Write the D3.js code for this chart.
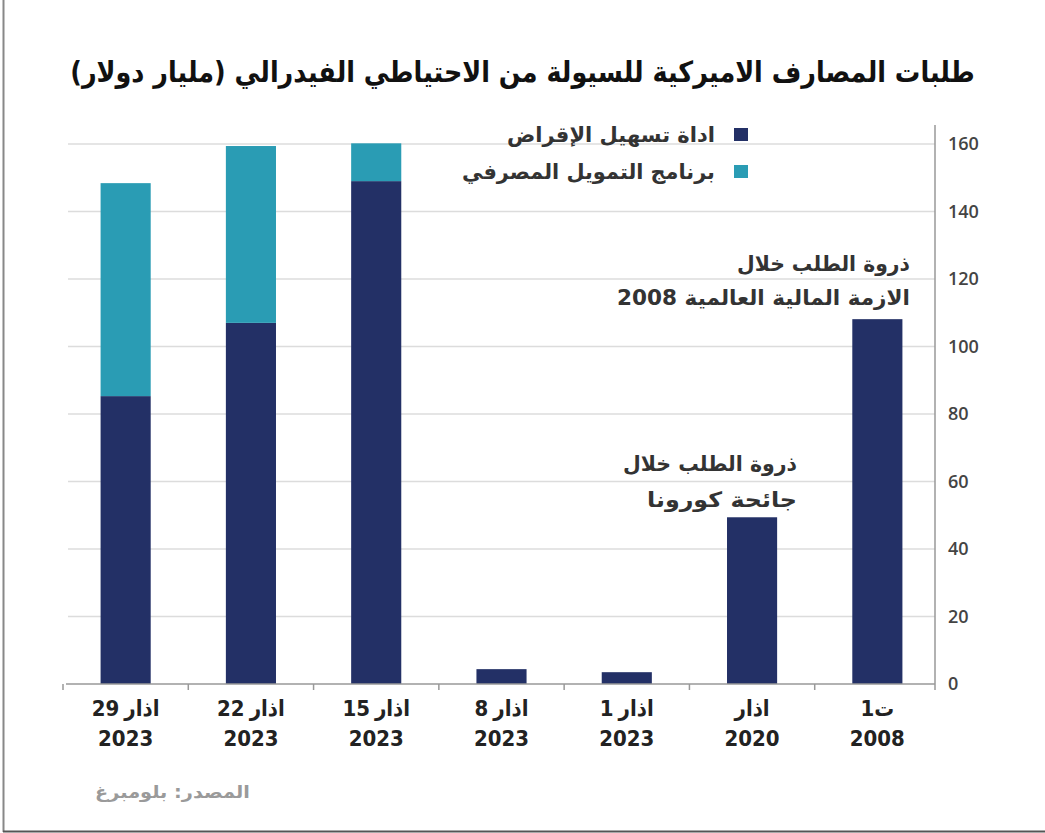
<!DOCTYPE html>
<html>
<head>
<meta charset="utf-8">
<script src="https://cdn.jsdelivr.net/npm/d3@7"></script>
<style>
  body { margin: 0; background: white; }
  svg { display: block; }
</style>
</head>
<body>
<script>
// categories, left to right as drawn
const dateDay = ["29", "22", "15", "8", "1", "", ""]
const dateMonth = ["اذار", "اذار", "اذار", "اذار", "اذار", "اذار", "1ت"]
const dateYear = ["2023", "2023", "2023", "2023", "2023", "2020", "2008"]
const lending = [85.3, 107, 149, 4.4, 3.5, 49.4, 108.1]
const btfp = [63.1, 52.4, 11.2, 0, 0, 0, 0]
const yTicks = [0, 20, 40, 60, 80, 100, 120, 140, 160]
const seriesNames = ["اداة تسهيل الإقراض", "برنامج التمويل المصرفي"]
const colors = ["#233066", "#2a9cb4"]

const title = "طلبات المصارف الاميركية للسيولة من الاحتياطي الفيدرالي (مليار دولار)"
const note2008 = ["ذروة الطلب خلال", "الازمة المالية العالمية 2008"]
const note2020 = ["ذروة الطلب خلال", "جائحة كورونا"]
const source = "المصدر: بلومبرغ"

const width = 1045
const height = 833
const arabicFont = "'DejaVu Sans', sans-serif"

const svg = d3.select("body")
    .append("svg")
    .attr("width", width)
    .attr("height", height)
    .style("background", "white")

// frame
svg.append("line").attr("x1", 3.5).attr("x2", 3.5).attr("y1", 0).attr("y2", 832)
    .attr("stroke", "#888").attr("stroke-width", 2)
svg.append("line").attr("x1", 3).attr("x2", width).attr("y1", 831.5).attr("y2", 831.5)
    .attr("stroke", "#555").attr("stroke-width", 2)

const table = dateYear.map((d, i) => ({ key: i, lending: lending[i], btfp: btfp[i] }))

const xScale = d3.scaleBand()
    .domain(d3.range(dateYear.length))
    .range([63, 940])
    .paddingInner(0.6)
    .paddingOuter(0.3)

const yScale = d3.scaleLinear()
    .domain([0, 160])
    .range([684, 144])

const axisX = 935

// gridlines
svg.append("g")
    .selectAll("line")
    .data(yTicks.filter(t => t > 0))
    .enter()
    .append("line")
    .attr("x1", 68)
    .attr("x2", axisX)
    .attr("y1", d => yScale(d))
    .attr("y2", d => yScale(d))
    .attr("stroke", "#dcdcdc")
    .attr("stroke-width", 1.5)

// stacked bars
const stack = d3.stack().keys(["lending", "btfp"])
const layers = stack(table)

svg.append("g")
    .selectAll("g")
    .data(layers)
    .enter()
    .append("g")
    .attr("fill", (d, i) => colors[i])
    .selectAll("rect")
    .data(d => d)
    .enter()
    .append("rect")
    .attr("x", d => xScale(d.data.key))
    .attr("width", xScale.bandwidth())
    .attr("y", d => yScale(d[1]))
    .attr("height", d => yScale(d[0]) - yScale(d[1]))

// y axis on the right
const yAxis = d3.axisRight(yScale)
    .tickValues(yTicks)
    .tickSize(0)
    .tickPadding(13)

const yG = svg.append("g")
    .attr("transform", `translate(${axisX}, 0)`)
    .call(yAxis)
yG.select(".domain").remove()
yG.append("line")
    .attr("x1", 0).attr("x2", 0)
    .attr("y1", 125).attr("y2", 690)
    .attr("stroke", "#999")
    .attr("stroke-width", 1.5)
yG.selectAll("text")
    .attr("font-family", "'Open Sans', sans-serif")
    .attr("font-size", 18)
    .attr("font-weight", 600)
    .attr("fill", "#444")

// x axis line with ticks between bands
const xG = svg.append("g")
xG.append("line")
    .attr("x1", 66).attr("x2", axisX)
    .attr("y1", 684).attr("y2", 684)
    .attr("stroke", "#999")
    .attr("stroke-width", 1.5)
xG.selectAll(".tk")
    .data(d3.range(dateYear.length))
    .enter()
    .append("line")
    .attr("class", "tk")
    .attr("x1", d => xScale(d) - xScale.step() * xScale.paddingInner() / 2)
    .attr("x2", d => xScale(d) - xScale.step() * xScale.paddingInner() / 2)
    .attr("y1", 684).attr("y2", 690)
    .attr("stroke", "#999")
    .attr("stroke-width", 1.5)

// x labels: day number placed to the left of the month word
const labelFont = "'Liberation Sans Narrow', 'DejaVu Sans Condensed', sans-serif"
const xl = svg.append("g")
    .attr("font-family", labelFont)
    .attr("font-weight", "bold")
    .attr("font-size", 22)
    .attr("fill", "#222")

dateYear.forEach((yr, i) => {
    const cx = xScale(i) + xScale.bandwidth() / 2
    const m = xl.append("text").attr("y", 716).attr("text-anchor", "middle").text(dateMonth[i])
    const wM = m.node().getComputedTextLength()
    let wD = 0, gap = 0
    let d
    if (dateDay[i]) {
        d = xl.append("text").attr("y", 716).attr("text-anchor", "middle").text(dateDay[i])
        wD = d.node().getComputedTextLength()
        gap = 5
    }
    const left = cx - (wD + gap + wM) / 2
    if (d) d.attr("x", left + wD / 2)
    m.attr("x", left + wD + gap + wM / 2)

    xl.append("text")
        .attr("x", cx)
        .attr("y", 746)
        .attr("text-anchor", "middle")
        .text(yr)
})

// arabic text fitted between left and right edges (stretched horizontally)
function fitText(left, right, y, str, size, weight, fill) {
    const g = svg.append("g")
    const t = g.append("text")
        .attr("x", 0)
        .attr("y", 0)
        .attr("dy", "0.35em")
        .style("direction", "rtl")
        .attr("text-anchor", "middle")
        .attr("font-family", arabicFont)
        .attr("font-size", size)
        .attr("font-weight", weight)
        .attr("fill", fill)
        .text(str)
    const len = t.node().getComputedTextLength()
    const sx = (right - left) / len
    g.attr("transform", `translate(${(left + right) / 2}, ${y}) scale(${sx}, 1)`)
    return t
}

// title
fitText(70, 975, 72, title, 29, "bold", "#111")

// legend
const legendLeft = [507, 462]
seriesNames.forEach((name, i) => {
    svg.append("rect")
        .attr("x", 734)
        .attr("y", 128 + i * 37)
        .attr("width", 14)
        .attr("height", 13)
        .attr("fill", colors[i])
    fitText(legendLeft[i], 715, 135 + i * 37, name, 21, "bold", "#333")
})

// annotations
fitText(737, 910, 264, note2008[0], 21, "bold", "#333")
fitText(617, 910, 298, note2008[1], 21, "bold", "#333")
fitText(623, 797, 464, note2020[0], 21, "bold", "#333")
fitText(647, 797, 500, note2020[1], 21, "bold", "#333")

// source
fitText(95, 250, 792, source, 17, "bold", "#9a9a9a")
</script>
</body>
</html>
